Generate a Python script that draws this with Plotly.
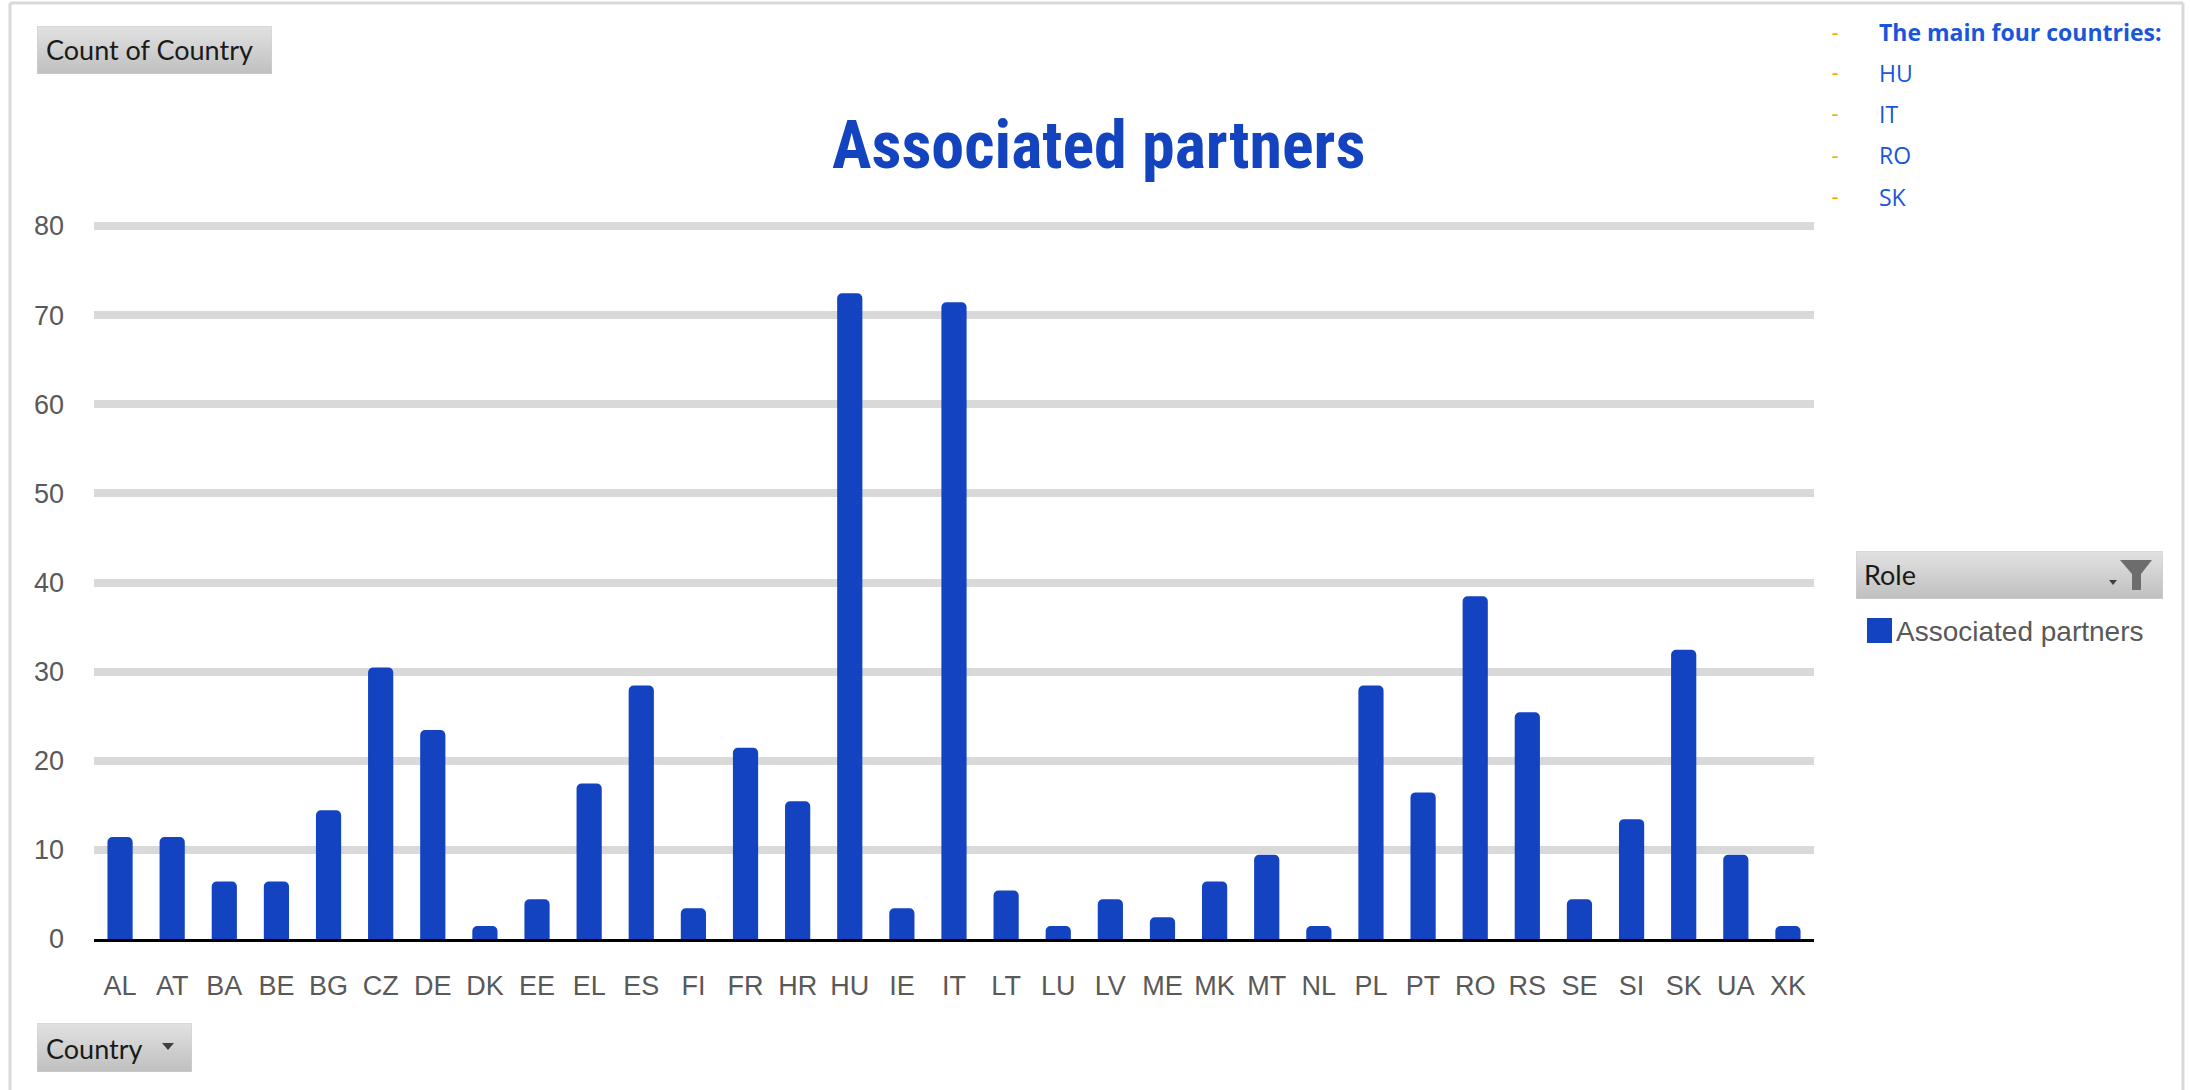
import base64
import plotly.graph_objects as go

# ---------------- data ----------------
countries = ["AL", "AT", "BA", "BE", "BG", "CZ", "DE", "DK", "EE", "EL", "ES",
             "FI", "FR", "HR", "HU", "IE", "IT", "LT", "LU", "LV", "ME", "MK",
             "MT", "NL", "PL", "PT", "RO", "RS", "SE", "SI", "SK", "UA", "XK"]
counts = [11, 11, 6, 6, 14, 30, 23, 1, 4, 17, 28,
          3, 21, 15, 72, 3, 71, 5, 1, 4, 2, 6,
          9, 1, 28, 16, 38, 25, 4, 13, 32, 9, 1]
y_ticks = [0, 10, 20, 30, 40, 50, 60, 70, 80]
series_name = "Associated partners"
title_text = "Associated partners"
note_lines = ["The main four countries:", "HU", "IT", "RO", "SK"]

W, H = 2190, 1090
BLUE = "rgb(19,67,192)"
GREY_TXT = "#595959"


def px(x):
    return x / W


def py(y):
    return 1 - y / H


def svg_uri(svg):
    return "data:image/svg+xml;base64," + base64.b64encode(svg.encode()).decode()


def button_svg(w, h):
    return svg_uri(
        f'<svg xmlns="http://www.w3.org/2000/svg" width="{w}" height="{h}">'
        '<defs><linearGradient id="g" x1="0" y1="0" x2="0" y2="1">'
        '<stop offset="0" stop-color="#e2e2e2"/><stop offset="1" stop-color="#bfbfbf"/>'
        '</linearGradient></defs>'
        f'<rect x="0" y="0" width="{w}" height="{h}" fill="url(#g)" stroke="#d0d0d0" stroke-width="1"/>'
        '</svg>')


fig = go.Figure()
fig.add_trace(go.Bar(
    x=countries, y=counts, name=series_name,
    marker=dict(color=BLUE, line=dict(width=8, color=BLUE), cornerradius=1),
    showlegend=False,
))

Y_MAX = 80.5
plot_l, plot_r, plot_b = 94, 1814, 939
unit = (939 - 226) / 80.0
plot_t = plot_b - Y_MAX * unit

fig.update_layout(
    width=W, height=H,
    margin=dict(l=0, r=0, t=0, b=0),
    paper_bgcolor="white", plot_bgcolor="white",
    bargap=0.67,
    xaxis=dict(
        domain=[px(plot_l), px(plot_r)], automargin=False,
        showgrid=False, zeroline=False,
        showline=True, linecolor="black", linewidth=3,
        tickfont=dict(family="Liberation Sans, Arial", size=27, color=GREY_TXT),
        ticks="", ticklabelstandoff=21,
    ),
    yaxis=dict(
        domain=[py(plot_b), py(plot_t)], automargin=False,
        range=[0, Y_MAX], tickvals=y_ticks,
        showgrid=True, gridcolor="#d9d9d9", gridwidth=8,
        zeroline=False, showline=False,
        tickfont=dict(family="Liberation Sans, Arial", size=27, color=GREY_TXT),
        ticks="", ticklabelstandoff=29,
    ),
)

shapes = []
annotations = []
images = []

# outer frame
for (x0, y0, x1, y1) in [(10, 3, 10, 1095), (10, 3, 2183, 3), (2183, 3, 2183, 1095)]:
    shapes.append(dict(type="line", xref="paper", yref="paper",
                       x0=px(x0), y0=py(y0), x1=px(x1), y1=py(y1),
                       line=dict(color="#d9d9d9", width=3)))

# title
annotations.append(dict(
    text=f"<b>{title_text}</b>", xref="paper", yref="paper",
    x=px(1098), y=py(146), xanchor="center", yanchor="middle", showarrow=False,
    font=dict(family="Liberation Sans Narrow, Roboto Condensed, DejaVu Sans Condensed, Roboto",
              size=66, color="#1343be"),
))

# "Count of Country" button
images.append(dict(source=button_svg(235, 48), xref="paper", yref="paper",
                   x=px(37), y=py(26), sizex=px(235), sizey=48 / H,
                   xanchor="left", yanchor="top", sizing="stretch", layer="below"))
annotations.append(dict(text="Count of Country", xref="paper", yref="paper",
                        x=px(44), y=py(50), xanchor="left", yanchor="middle", showarrow=False,
                        font=dict(family="Lato, Open Sans", size=27, color="#1a1a1a")))

# "Country" button
images.append(dict(source=button_svg(155, 49), xref="paper", yref="paper",
                   x=px(37), y=py(1023), sizex=px(155), sizey=49 / H,
                   xanchor="left", yanchor="top", sizing="stretch", layer="below"))
annotations.append(dict(text="Country", xref="paper", yref="paper",
                        x=px(44), y=py(1048), xanchor="left", yanchor="middle", showarrow=False,
                        font=dict(family="Lato, Open Sans", size=27, color="#1a1a1a")))
shapes.append(dict(type="path", xref="paper", yref="paper",
                   path=f"M {px(162)},{py(1043)} L {px(174)},{py(1043)} L {px(168)},{py(1050)} Z",
                   fillcolor="#404040", line=dict(width=0)))

# "Role" header
images.append(dict(source=button_svg(307, 48), xref="paper", yref="paper",
                   x=px(1856), y=py(551), sizex=px(307), sizey=48 / H,
                   xanchor="left", yanchor="top", sizing="stretch", layer="below"))
annotations.append(dict(text="Role", xref="paper", yref="paper",
                        x=px(1862), y=py(575), xanchor="left", yanchor="middle", showarrow=False,
                        font=dict(family="Lato, Open Sans", size=27, color="#1a1a1a")))
# dropdown arrow + funnel
shapes.append(dict(type="path", xref="paper", yref="paper",
                   path=f"M {px(2109)},{py(580)} L {px(2117)},{py(580)} L {px(2113)},{py(585)} Z",
                   fillcolor="#404040", line=dict(width=0)))
shapes.append(dict(type="path", xref="paper", yref="paper",
                   path=(f"M {px(2120)},{py(560)} L {px(2152)},{py(560)} L {px(2141)},{py(574)} "
                         f"L {px(2141)},{py(590)} L {px(2132)},{py(590)} L {px(2132)},{py(574)} Z"),
                   fillcolor="#6d6d6d", line=dict(width=0)))

# legend swatch + label
shapes.append(dict(type="rect", xref="paper", yref="paper",
                   x0=px(1867), y0=py(618), x1=px(1892), y1=py(643),
                   fillcolor=BLUE, line=dict(width=0)))
annotations.append(dict(text=series_name, xref="paper", yref="paper",
                        x=px(1894), y=py(631), xanchor="left", yanchor="middle", showarrow=False,
                        font=dict(family="Liberation Sans, Arial", size=28, color=GREY_TXT)))

# note list at top right
line_y = [32, 73, 114, 155, 197]
for i, (txt, yy) in enumerate(zip(note_lines, line_y)):
    annotations.append(dict(text="-", xref="paper", yref="paper",
                            x=px(1835), y=py(yy), xanchor="center", yanchor="middle",
                            showarrow=False,
                            font=dict(family="Lato, Open Sans", size=22, color="#f0b000")))
    annotations.append(dict(text=f"<b>{txt}</b>" if i == 0 else txt,
                            xref="paper", yref="paper",
                            x=px(1877), y=py(yy), xanchor="left", yanchor="middle",
                            showarrow=False,
                            font=dict(family="Open Sans, Lato", size=23, color="#1a56db")))

fig.update_layout(shapes=shapes, annotations=annotations, images=images)
fig.write_html("out.html",
               config={"displayModeBar": False},
               post_script="document.body.style.margin='0px';document.body.style.overflow='hidden';")
